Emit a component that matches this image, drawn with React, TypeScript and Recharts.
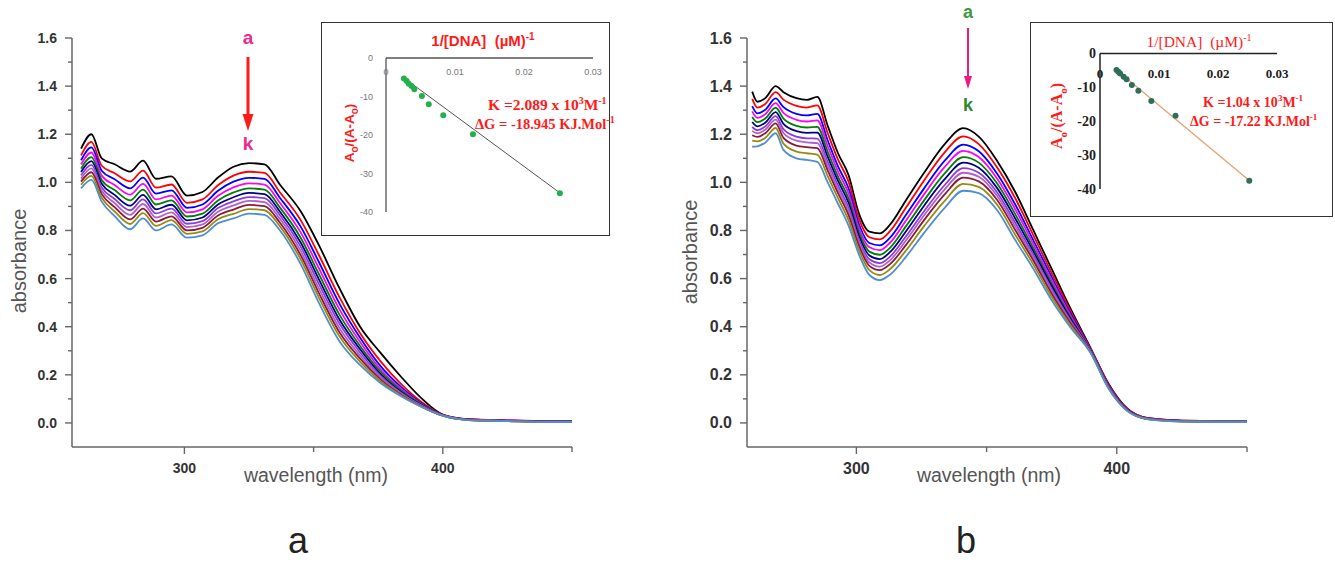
import React from 'react';
import { LineChart, Line, XAxis, YAxis, ScatterChart, Scatter } from 'recharts';

// wavelength grid (nm) for panel a / panel b
const WAVE_A = [260, 264, 268, 273, 279, 284, 289, 295, 301, 307, 313, 319, 325, 331, 337, 345, 352, 360, 368, 376, 384, 392, 400, 410, 425, 440, 450];
const WAVE_B = [260, 262, 265, 269, 272, 277, 281, 285, 289, 293, 297, 301, 305, 309, 313, 319, 326, 334, 341, 347, 354, 361, 368, 375, 382, 390, 397, 404, 412, 425, 440, 450];

// panel a spectra, curve a (top) to k (bottom)
const PA_A = [1.14, 1.2, 1.1, 1.075, 1.045, 1.09, 1.015, 1.025, 0.945, 0.96, 1.02, 1.065, 1.08, 1.075, 0.99, 0.88, 0.74, 0.56, 0.4, 0.29, 0.19, 0.1, 0.035, 0.015, 0.01, 0.008, 0.008];
const PA_B = [1.112, 1.168, 1.069, 1.038, 1.004, 1.049, 0.978, 0.991, 0.915, 0.929, 0.988, 1.028, 1.044, 1.039, 0.958, 0.843, 0.699, 0.523, 0.373, 0.255, 0.16, 0.085, 0.034, 0.016, 0.011, 0.008, 0.008];
const PA_C = [1.092, 1.145, 1.048, 1.013, 0.975, 1.02, 0.953, 0.967, 0.894, 0.908, 0.965, 1.003, 1.019, 1.014, 0.935, 0.816, 0.67, 0.496, 0.354, 0.235, 0.148, 0.08, 0.033, 0.015, 0.01, 0.007, 0.007];
const PA_D = [1.074, 1.124, 1.028, 0.989, 0.949, 0.994, 0.929, 0.945, 0.875, 0.888, 0.944, 0.979, 0.996, 0.991, 0.914, 0.792, 0.644, 0.472, 0.336, 0.222, 0.14, 0.077, 0.033, 0.015, 0.01, 0.007, 0.007];
const PA_E = [1.057, 1.105, 1.01, 0.968, 0.925, 0.97, 0.908, 0.925, 0.858, 0.87, 0.925, 0.958, 0.975, 0.97, 0.895, 0.77, 0.62, 0.45, 0.32, 0.212, 0.134, 0.075, 0.032, 0.014, 0.009, 0.006, 0.006];
const PA_F = [1.043, 1.088, 0.994, 0.948, 0.903, 0.948, 0.888, 0.907, 0.842, 0.854, 0.908, 0.938, 0.956, 0.951, 0.878, 0.75, 0.598, 0.43, 0.306, 0.202, 0.128, 0.073, 0.032, 0.014, 0.009, 0.006, 0.006];
const PA_G = [1.029, 1.073, 0.979, 0.931, 0.884, 0.929, 0.871, 0.891, 0.828, 0.839, 0.893, 0.921, 0.939, 0.934, 0.863, 0.733, 0.579, 0.413, 0.293, 0.195, 0.124, 0.071, 0.031, 0.013, 0.009, 0.005, 0.005];
const PA_H = [1.016, 1.058, 0.965, 0.914, 0.865, 0.91, 0.854, 0.875, 0.814, 0.825, 0.878, 0.904, 0.923, 0.918, 0.848, 0.715, 0.56, 0.395, 0.28, 0.188, 0.12, 0.069, 0.031, 0.013, 0.008, 0.005, 0.005];
const PA_I = [1.003, 1.042, 0.951, 0.897, 0.846, 0.891, 0.837, 0.859, 0.8, 0.811, 0.862, 0.887, 0.906, 0.901, 0.832, 0.697, 0.541, 0.377, 0.267, 0.18, 0.116, 0.067, 0.03, 0.012, 0.008, 0.004, 0.004];
const PA_J = [0.99, 1.027, 0.936, 0.879, 0.827, 0.872, 0.819, 0.843, 0.786, 0.796, 0.847, 0.869, 0.889, 0.884, 0.817, 0.68, 0.522, 0.36, 0.254, 0.172, 0.113, 0.066, 0.03, 0.012, 0.008, 0.004, 0.004];
const PA_K = [0.975, 1.01, 0.92, 0.86, 0.805, 0.85, 0.8, 0.825, 0.77, 0.78, 0.83, 0.85, 0.87, 0.865, 0.8, 0.66, 0.5, 0.34, 0.24, 0.165, 0.11, 0.065, 0.03, 0.012, 0.008, 0.003, 0.003];

// panel b spectra
const PB_A = [1.377, 1.335, 1.35, 1.4, 1.375, 1.35, 1.343, 1.355, 1.235, 1.12, 1.03, 0.87, 0.795, 0.788, 0.825, 0.925, 1.04, 1.16, 1.225, 1.19, 1.09, 0.96, 0.8, 0.64, 0.48, 0.31, 0.16, 0.06, 0.02, 0.01, 0.008, 0.008];
const PB_B = [1.347, 1.311, 1.326, 1.375, 1.344, 1.318, 1.311, 1.32, 1.204, 1.093, 1.003, 0.848, 0.772, 0.763, 0.798, 0.894, 1.008, 1.126, 1.191, 1.159, 1.063, 0.934, 0.779, 0.623, 0.47, 0.307, 0.157, 0.059, 0.02, 0.01, 0.008, 0.008];
const PB_C = [1.317, 1.287, 1.302, 1.349, 1.313, 1.285, 1.278, 1.285, 1.174, 1.065, 0.975, 0.826, 0.748, 0.738, 0.771, 0.864, 0.975, 1.091, 1.157, 1.129, 1.037, 0.908, 0.758, 0.606, 0.459, 0.305, 0.155, 0.057, 0.019, 0.009, 0.007, 0.007];
const PB_D = [1.295, 1.268, 1.283, 1.329, 1.289, 1.26, 1.253, 1.258, 1.15, 1.044, 0.954, 0.809, 0.73, 0.718, 0.75, 0.84, 0.95, 1.065, 1.131, 1.105, 1.016, 0.888, 0.742, 0.593, 0.451, 0.303, 0.153, 0.056, 0.019, 0.009, 0.007, 0.007];
const PB_E = [1.272, 1.25, 1.265, 1.31, 1.265, 1.235, 1.228, 1.231, 1.127, 1.023, 0.933, 0.792, 0.712, 0.699, 0.729, 0.817, 0.925, 1.038, 1.105, 1.082, 0.996, 0.868, 0.726, 0.58, 0.443, 0.301, 0.151, 0.055, 0.018, 0.008, 0.006, 0.006];
const PB_F = [1.251, 1.233, 1.248, 1.292, 1.243, 1.213, 1.206, 1.207, 1.106, 1.005, 0.915, 0.777, 0.696, 0.681, 0.711, 0.796, 0.903, 1.014, 1.082, 1.061, 0.977, 0.85, 0.712, 0.569, 0.436, 0.299, 0.149, 0.054, 0.018, 0.008, 0.006, 0.006];
const PB_G = [1.23, 1.217, 1.232, 1.275, 1.221, 1.19, 1.183, 1.182, 1.085, 0.986, 0.896, 0.761, 0.68, 0.664, 0.692, 0.775, 0.88, 0.99, 1.059, 1.04, 0.959, 0.832, 0.698, 0.557, 0.429, 0.297, 0.147, 0.053, 0.017, 0.008, 0.006, 0.006];
const PB_H = [1.214, 1.204, 1.219, 1.261, 1.205, 1.173, 1.166, 1.163, 1.068, 0.971, 0.881, 0.749, 0.667, 0.65, 0.677, 0.758, 0.863, 0.972, 1.04, 1.023, 0.944, 0.818, 0.686, 0.548, 0.423, 0.296, 0.146, 0.052, 0.017, 0.007, 0.005, 0.005];
const PB_I = [1.196, 1.189, 1.204, 1.245, 1.185, 1.153, 1.146, 1.142, 1.049, 0.954, 0.864, 0.736, 0.653, 0.635, 0.661, 0.739, 0.843, 0.951, 1.02, 1.004, 0.928, 0.802, 0.674, 0.537, 0.417, 0.294, 0.144, 0.052, 0.016, 0.007, 0.005, 0.005];
const PB_J = [1.173, 1.17, 1.185, 1.226, 1.161, 1.128, 1.121, 1.115, 1.026, 0.933, 0.843, 0.719, 0.635, 0.615, 0.64, 0.716, 0.818, 0.924, 0.994, 0.981, 0.908, 0.782, 0.658, 0.524, 0.409, 0.292, 0.142, 0.051, 0.016, 0.006, 0.005, 0.005];
const PB_K = [1.148, 1.15, 1.165, 1.204, 1.135, 1.1, 1.093, 1.085, 1.0, 0.91, 0.82, 0.7, 0.615, 0.594, 0.617, 0.69, 0.79, 0.895, 0.965, 0.955, 0.885, 0.76, 0.64, 0.51, 0.4, 0.29, 0.14, 0.05, 0.015, 0.006, 0.004, 0.004];

const CURVE_KEYS = ['a', 'b', 'c', 'd', 'e', 'f', 'g', 'h', 'i', 'j', 'k'];
const CURVE_COLORS = ['#000000', '#ff0000', '#0000ff', '#ff00ff', '#008000', '#000080', '#8b3fd9', '#b060c8', '#8b1a3a', '#9a8a10', '#4f8fd0'];

const Y_TICKS = [0, 0.1, 0.2, 0.3, 0.4, 0.5, 0.6, 0.7, 0.8, 0.9, 1.0, 1.1, 1.2, 1.3, 1.4, 1.5, 1.6];
const X_TICKS = [300, 350, 400, 450];

// insets: double reciprocal plots
const INSET_A_X = [0.0026, 0.003, 0.0033, 0.0037, 0.0041, 0.0052, 0.0062, 0.0083, 0.0126, 0.0252];
const INSET_A_Y = [-5.3, -6.0, -6.7, -7.3, -8.1, -9.9, -12.0, -14.9, -19.8, -35.1];
const FIT_A_X = [0.0024, 0.0254];
const FIT_A_Y = [-4.9, -35.3];
const INSET_B_X = [0.0028, 0.0031, 0.0034, 0.004, 0.0045, 0.0054, 0.0065, 0.0087, 0.0128, 0.0253];
const INSET_B_Y = [-4.9, -5.4, -5.9, -6.9, -7.6, -9.3, -11.0, -14.0, -18.4, -37.6];
const FIT_B_X = [0.0026, 0.0255];
const FIT_B_Y = [-4.6, -37.8];
const INSET_X_TICKS = [0, 0.01, 0.02, 0.03];
const INSET_Y_TICKS = [0, -10, -20, -30, -40];

const SANS = 'Liberation Sans, Arial, sans-serif';
const SERIF = 'Liberation Serif, Times New Roman, serif';
const RED = '#ff1a1a';

const buildRows = (waves: number[], series: number[][]) =>
  waves.map((w, i) => {
    const row: Record<string, number> = { w };
    series.forEach((s, j) => {
      row[CURVE_KEYS[j]] = s[i];
    });
    return row;
  });

const rowsA = buildRows(WAVE_A, [PA_A, PA_B, PA_C, PA_D, PA_E, PA_F, PA_G, PA_H, PA_I, PA_J, PA_K]);
const rowsB = buildRows(WAVE_B, [PB_A, PB_B, PB_C, PB_D, PB_E, PB_F, PB_G, PB_H, PB_I, PB_J, PB_K]);

const pts = (xs: number[], ys: number[]) => xs.map((x, i) => ({ x, y: ys[i] }));

const YTick = (props: any) => {
  const { x, y, payload, fs } = props;
  const v = payload.value;
  const major = Math.round(v * 10) % 2 === 0;
  return (
    <g>
      <line x1={x - (major ? 7 : 4)} x2={x} y1={y} y2={y} stroke="#666" strokeWidth={1.4} />
      {major && (
        <text x={x - 15} y={y} textAnchor="end" dominantBaseline="central" fontSize={fs} fontWeight="bold" fill="#333" fontFamily={SANS}>
          {v.toFixed(1)}
        </text>
      )}
    </g>
  );
};

const XTick = (props: any) => {
  const { x, y, payload, fs } = props;
  const v = payload.value;
  const major = v === 300 || v === 400;
  return (
    <g>
      <line x1={x} x2={x} y1={y} y2={y + (major ? 7 : 5)} stroke="#666" strokeWidth={1.4} />
      {major && (
        <text x={x} y={y + 21} textAnchor="middle" dominantBaseline="central" fontSize={fs} fontWeight="bold" fill="#333" fontFamily={SANS}>
          {v}
        </text>
      )}
    </g>
  );
};

const Spectra = ({ rows, domain, fs, left }: { rows: any[]; domain: number[]; fs: number; left: number }) => (
  <div style={{ position: 'absolute', left, top: 0 }}>
    <LineChart width={660} height={562} data={rows} margin={{ top: 38, right: 88, bottom: 85, left: 12 }}>
      <XAxis
        dataKey="w"
        type="number"
        domain={domain}
        ticks={X_TICKS}
        interval={0}
        allowDataOverflow
        height={30}
        tickSize={0}
        tickMargin={0}
        stroke="#666"
        strokeWidth={1.5}
        tick={(p: any) => <XTick {...p} fs={fs} />}
      />
      <YAxis
        type="number"
        domain={[-0.1, 1.6]}
        ticks={Y_TICKS}
        interval={0}
        allowDataOverflow
        width={60}
        tickSize={0}
        tickMargin={0}
        stroke="#666"
        strokeWidth={1.5}
        tick={(p: any) => <YTick {...p} fs={fs} />}
      />
      {CURVE_KEYS.map((k, i) => (
        <Line key={k} dataKey={k} type="monotone" stroke={CURVE_COLORS[i]} strokeWidth={1.8} dot={false} isAnimationActive={false} />
      ))}
    </LineChart>
  </div>
);

const Dot = (color: string) => (p: any) => <circle cx={p.cx} cy={p.cy} r={3} fill={color} />;

const InsetA = () => (
  <>
    <div style={{ position: 'absolute', left: 321, top: 22, width: 289, height: 214, border: '1.5px solid #333', boxSizing: 'border-box', background: '#fff' }} />
    <div style={{ position: 'absolute', left: 321, top: 22 }}>
      <ScatterChart width={288} height={214} margin={{ top: 16, right: 16, bottom: 24, left: 35 }}>
        <XAxis
          dataKey="x"
          type="number"
          orientation="top"
          domain={[0, 0.03]}
          ticks={INSET_X_TICKS}
          interval={0}
          height={20}
          tickSize={0}
          tickMargin={0}
          stroke="#555"
          strokeWidth={1.3}
          tick={(p: any) => (
            <text x={p.x} y={p.y + 14} textAnchor="middle" dominantBaseline="central" fontSize={9} fill="#777" fontFamily={SANS}>
              {p.payload.value === 0 ? '0' : p.payload.value.toFixed(2)}
            </text>
          )}
        />
        <YAxis
          dataKey="y"
          type="number"
          domain={[-40, 0]}
          ticks={INSET_Y_TICKS}
          interval={0}
          width={30}
          tickSize={0}
          tickMargin={0}
          stroke="#555"
          strokeWidth={1.3}
          tick={(p: any) => (
            <text x={p.x - 13} y={p.y} textAnchor="end" dominantBaseline="central" fontSize={9} fill="#777" fontFamily={SANS}>
              {p.payload.value}
            </text>
          )}
        />
        <Scatter data={pts(FIT_A_X, FIT_A_Y)} line={{ stroke: '#555', strokeWidth: 1 }} shape={() => <g />} isAnimationActive={false} />
        <Scatter data={pts(INSET_A_X, INSET_A_Y)} shape={Dot('#22b04a')} isAnimationActive={false} />
      </ScatterChart>
    </div>
  </>
);

const InsetB = () => (
  <>
    <div style={{ position: 'absolute', left: 1030, top: 22, width: 303, height: 195, border: '1.5px solid #333', boxSizing: 'border-box', background: '#fff' }} />
    <div style={{ position: 'absolute', left: 1030, top: 22 }}>
      <ScatterChart width={303} height={195} margin={{ top: 11.5, right: 56, bottom: 28, left: 40 }}>
        <XAxis
          dataKey="x"
          type="number"
          orientation="top"
          domain={[0, 0.03]}
          ticks={INSET_X_TICKS}
          interval={0}
          height={20}
          tickSize={0}
          tickMargin={0}
          stroke="#222"
          strokeWidth={1.5}
          tick={(p: any) => (
            <text x={p.x} y={p.y + 20} textAnchor="middle" dominantBaseline="central" fontSize={13} fontWeight="bold" fill="#222" fontFamily={SERIF}>
              {p.payload.value === 0 ? '0' : p.payload.value.toFixed(2)}
            </text>
          )}
        />
        <YAxis
          dataKey="y"
          type="number"
          domain={[-40, 0]}
          ticks={INSET_Y_TICKS}
          interval={0}
          width={30}
          tickSize={0}
          tickMargin={0}
          stroke="#222"
          strokeWidth={1.5}
          tick={(p: any) => (
            <text x={p.x - 4} y={p.y} textAnchor="end" dominantBaseline="central" fontSize={14} fontWeight="bold" fill="#222" fontFamily={SERIF}>
              {p.payload.value}
            </text>
          )}
        />
        <Scatter data={pts(FIT_B_X, FIT_B_Y)} line={{ stroke: '#e8a070', strokeWidth: 1.3 }} shape={() => <g />} isAnimationActive={false} />
        <Scatter data={pts(INSET_B_X, INSET_B_Y)} shape={Dot('#2f6e5c')} isAnimationActive={false} />
      </ScatterChart>
    </div>
  </>
);

// superscript / subscript offsets relative to the font size
const up = (fs: number) => -fs * 0.4;
const dn = (fs: number) => fs * 0.3;

const Overlay = () => (
  <svg width={1335} height={562} style={{ position: 'absolute', left: 0, top: 0, pointerEvents: 'none' }}>
    {/* main axis titles */}
    <text x={19} y={261} transform="rotate(-90 19 261)" textAnchor="middle" dominantBaseline="central" fontSize={20} fill="#555" fontFamily={SANS}>absorbance</text>
    <text x={690} y={252} transform="rotate(-90 690 252)" textAnchor="middle" dominantBaseline="central" fontSize={20} fill="#555" fontFamily={SANS}>absorbance</text>
    <text x={316} y={475} textAnchor="middle" dominantBaseline="central" fontSize={19.5} fill="#555" fontFamily={SANS}>wavelength (nm)</text>
    <text x={989} y={475} textAnchor="middle" dominantBaseline="central" fontSize={19.5} fill="#555" fontFamily={SANS}>wavelength (nm)</text>
    <text x={298} y={553} textAnchor="middle" fontSize={36} fill="#222" fontFamily={SANS}>a</text>
    <text x={966} y={553} textAnchor="middle" fontSize={36} fill="#222" fontFamily={SANS}>b</text>

    {/* arrow panel a */}
    <text x={248} y={37} textAnchor="middle" dominantBaseline="central" fontSize={19} fontWeight="bold" fill="#ee2a8a" fontFamily={SANS}>a</text>
    <line x1={248} x2={248} y1={57} y2={118} stroke="#ff1a1a" strokeWidth={3} />
    <polygon points="242.5,114 253.5,114 248,131" fill="#ff1a1a" />
    <text x={248} y={143} textAnchor="middle" dominantBaseline="central" fontSize={19} fontWeight="bold" fill="#ee2a8a" fontFamily={SANS}>k</text>

    {/* arrow panel b */}
    <text x={968} y={12} textAnchor="middle" dominantBaseline="central" fontSize={18} fontWeight="bold" fill="#3a9a3a" fontFamily={SANS}>a</text>
    <line x1={968} x2={968} y1={28} y2={80} stroke="#ee1a80" strokeWidth={2} />
    <polygon points="964,76 972,76 968,89" fill="#ee1a80" />
    <text x={968} y={105} textAnchor="middle" dominantBaseline="central" fontSize={18} fontWeight="bold" fill="#2a8a2a" fontFamily={SANS}>k</text>

    {/* inset a texts */}
    <text x={483} y={46} textAnchor="middle" fontSize={15} fontWeight="bold" fill={RED} fontFamily={SANS}>
      <tspan>1/[DNA]{'\u00a0\u00a0'}(µM)</tspan>
      <tspan dy={up(15)} fontSize={10}>-1</tspan>
    </text>
    <text x={354} y={133} transform="rotate(-90 354 133)" textAnchor="middle" fontSize={13.5} fontWeight="bold" fill={RED} fontFamily={SANS}>
      <tspan>A</tspan>
      <tspan dy={dn(13.5)} fontSize={10}>o</tspan>
      <tspan dy={-dn(13.5)}>/(A-A</tspan>
      <tspan dy={dn(13.5)} fontSize={10}>o</tspan>
      <tspan dy={-dn(13.5)}>)</tspan>
    </text>
    <text x={488} y={110} fontSize={15.5} fontWeight="bold" fill={RED} fontFamily={SERIF}>
      <tspan>K =2.089 x 10</tspan>
      <tspan dy={up(15.5)} fontSize={10}>3</tspan>
      <tspan dy={-up(15.5)}>M</tspan>
      <tspan dy={up(15.5)} fontSize={10}>-1</tspan>
    </text>
    <text x={475} y={129} fontSize={14.5} fontWeight="bold" fill={RED} fontFamily={SERIF}>
      <tspan>ΔG = -18.945 KJ.Mol</tspan>
      <tspan dy={up(14.5)} fontSize={10}>-1</tspan>
    </text>

    {/* inset b texts */}
    <text x={1199} y={47} textAnchor="middle" fontSize={15.5} fill={RED} fontFamily={SERIF}>
      <tspan>1/[DNA]{'\u00a0\u00a0'}(µM)</tspan>
      <tspan dy={up(15.5)} fontSize={10}>-1</tspan>
    </text>
    <text x={1062} y={116} transform="rotate(-90 1062 116)" textAnchor="middle" fontSize={16} fontWeight="bold" fill={RED} fontFamily={SERIF}>
      <tspan>A</tspan>
      <tspan dy={dn(16)} fontSize={11}>o</tspan>
      <tspan dy={-dn(16)}>/(A-A</tspan>
      <tspan dy={dn(16)} fontSize={11}>o</tspan>
      <tspan dy={-dn(16)}>)</tspan>
    </text>
    <text x={1203} y={107} fontSize={14} fontWeight="bold" fill={RED} fontFamily={SERIF}>
      <tspan>K =1.04 x 10</tspan>
      <tspan dy={up(14)} fontSize={9}>3</tspan>
      <tspan dy={-up(14)}>M</tspan>
      <tspan dy={up(14)} fontSize={9}>-1</tspan>
    </text>
    <text x={1190} y={126} fontSize={14} fontWeight="bold" fill={RED} fontFamily={SERIF}>
      <tspan>ΔG = -17.22 KJ.Mol</tspan>
      <tspan dy={up(14)} fontSize={9}>-1</tspan>
    </text>
  </svg>
);

export default function App() {
  return (
    <div style={{ position: 'absolute', left: 0, top: 0, width: 1335, height: 562, background: '#fff', overflow: 'hidden' }}>
      <Spectra rows={rowsA} domain={[256.5, 450]} fs={14} left={0} />
      <Spectra rows={rowsB} domain={[258, 450]} fs={16} left={675} />
      <InsetA />
      <InsetB />
      <Overlay />
    </div>
  );
}
